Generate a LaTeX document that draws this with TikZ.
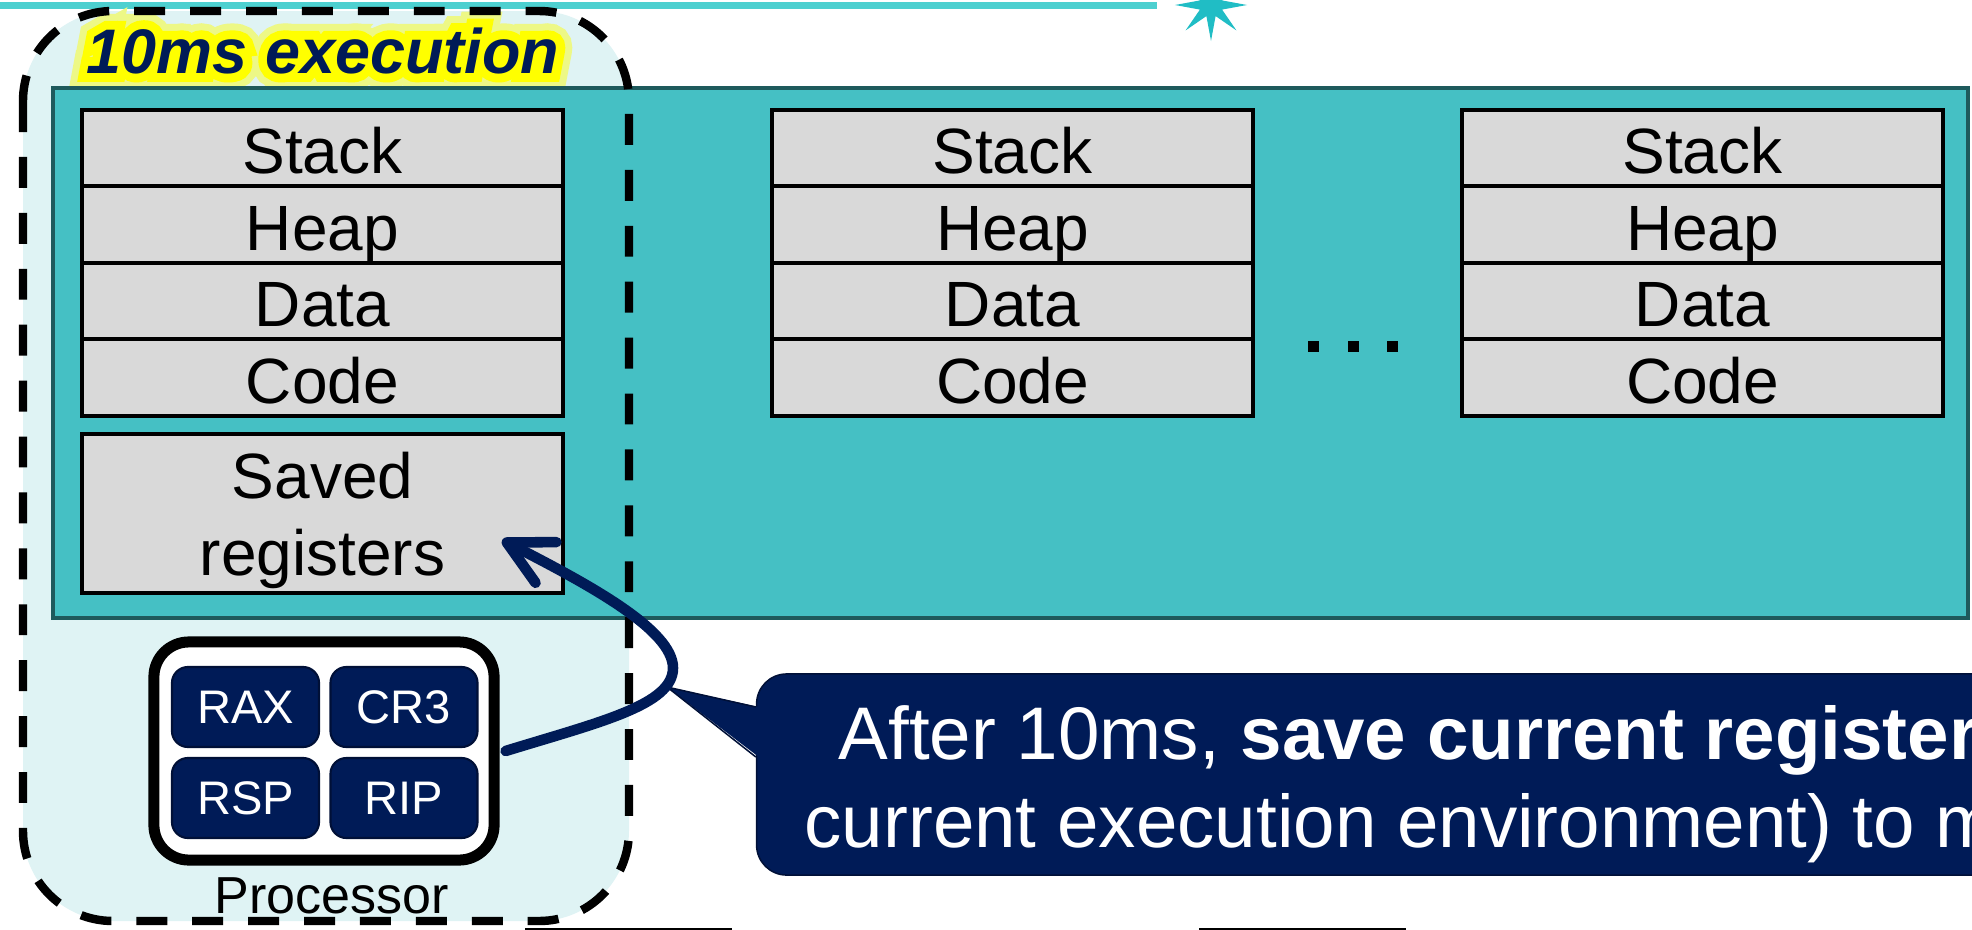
\documentclass[tikz,border=0pt]{standalone}
\usepackage{fontspec}
\setmainfont{Liberation Sans}
\newfontface\glowwide{Liberation Sans Bold Italic}[FakeBold=50]
\newfontface\glownarrow{Liberation Sans Bold Italic}[FakeBold=28]
\usetikzlibrary{arrows.meta,shapes.geometric,calc}

\definecolor{navy}{RGB}{0,27,87}
\definecolor{navyline}{RGB}{0,16,55}
\definecolor{tealfill}{RGB}{69,192,196}
\definecolor{tealedge}{RGB}{30,90,92}
\definecolor{palecyan}{RGB}{223,243,244}
\definecolor{memgray}{RGB}{217,217,217}
\definecolor{rulecyan}{RGB}{77,208,208}
\definecolor{starcyan}{RGB}{32,189,197}
\definecolor{glowyellow}{RGB}{255,255,0}

\tikzset{
  % one pixel of the drawing = 0.01cm, y grows downwards
  x=0.01cm, y=-0.01cm,
  memfont/.style={font=\fontsize{18.2pt}{21.8pt}\selectfont},
  titlesize/.style={font=\fontsize{17.9pt}{21.5pt}\selectfont#1},
  chipfont/.style={font=\fontsize{13.4pt}{16pt}\selectfont},
  notefont/.style={font=\fontsize{21.2pt}{25pt}\selectfont},
  segbase/.style={draw=black, line width=1.14pt, fill=memgray, minimum width=4.81cm,
    inner sep=0pt, memfont},
  seg/.style={segbase, minimum height=0.765cm, text height=14.4pt, text depth=0pt},
  chip/.style={draw=navyline, line width=0.6pt, fill=navy, rounded corners=0.16cm,
    minimum width=1.47cm, minimum height=0.80cm, inner sep=0pt, text=white, chipfont,
    text height=9.6pt, text depth=0pt},
  dotbox/.style={fill=black, minimum size=0.11cm, inner sep=0pt},
  lowbox/.style={draw=black, line width=1.14pt, minimum width=2.03cm, minimum height=1cm,
    anchor=north, inner sep=0pt},
  execframe/.style={draw=black, line width=2.4pt, dash pattern=on 8.8pt off 7.1pt},
  saveline/.style={draw=navy, line width=3pt, line cap=round,
    -{Straight Barb[round, length=12.5pt, width=13pt]}},
}

\begin{document}
\begin{tikzpicture}
\useasboundingbox (0,0) rectangle (1972,930);
\clip (0,0) rectangle (1972,930);

% timeline rule and spark
\node[star, star points=8, star point ratio=3, minimum size=0.72cm, fill=starcyan,
      inner sep=0pt] (spark) at (1211,5) {};
\coordinate (ruleL) at (-10,5.5);
\draw[rulecyan, line width=2pt] (ruleL) -- ([xshift=-0.14cm]spark.west |- ruleL);

% execution frame background
\fill[palecyan, rounded corners=0.9cm] (23,11) rectangle (629,921);

% title with a yellow glow behind it
\node[titlesize=\glowwide, anchor=base, inner sep=0pt, text=glowyellow!45!palecyan] (glowo) at (323,73) {10ms execution};
\node[titlesize=\glownarrow, anchor=base, inner sep=0pt, text=glowyellow] (glowi) at (323,73) {10ms execution};
\node[titlesize=\bfseries\itshape, anchor=base, inner sep=0pt, text=navy] (title) at (323,73) {10ms execution};

% memory
\node[fill=tealfill, draw=tealedge, line width=1.14pt, minimum width=19.13cm,
      minimum height=5.30cm, inner sep=0pt] (mem) at (1010.5,353) {};

\foreach \c/\x in {1/322.5, 2/1012.5, 3/1702.5} {
  \node[seg] (stack\c) at (\x,148.25) {Stack};
  \node[seg] (heap\c)  at (\x,224.75) {Heap};
  \node[seg] (data\c)  at (\x,301.25) {Data};
  \node[seg] (code\c)  at (\x,377.75) {Code};
}

\node[dotbox] (dot1) at (1313,346) {};
\node[dotbox] (dot2) at (1353,346) {};
\node[dotbox] (dot3) at (1392,346) {};

\node[segbase, minimum height=1.59cm] (saved) at (322.5,513.5) {};
\node[memfont, align=center, inner sep=0pt] (savedtext) at ($(saved.center)+(0,7)$) {Saved\\registers};

% processor
\node[draw=black, line width=3.13pt, fill=white, rounded corners=0.35cm,
      minimum width=3.40cm, minimum height=2.18cm, inner sep=0pt] (proc) at (324,751) {};
\node[chip] (rax) at (245.5,707) {RAX};
\node[chip] (cr3) at (404,707) {CR3};
\node[chip] (rsp) at (245.5,798) {RSP};
\node[chip] (rip) at (404,798) {RIP};
\node[font=\fontsize{14.8pt}{18pt}\selectfont, anchor=base, inner sep=0pt] (proclabel) at (331.5,913) {Processor};

% dashed execution frame on top
\draw[execframe, rounded corners=0.9cm] (23,11) rectangle (629,921);

% boxes below
\node[lowbox] (low1) at (628.5,928) {};
\node[lowbox] (low2) at (1302.5,928) {};

% callout
\node[draw=navyline, line width=0.43pt, fill=navy, rounded corners=0.3cm,
      minimum width=13.93cm, minimum height=2.01cm, inner sep=0pt] (note) at (1453.5,774.5) {};
\coordinate (ptip) at (667,687);
\fill[navy] (ptip) -- ($(note.west)+(3,-67.5)$) -- ($(note.west)+(3,-17.5)$) -- cycle;
\draw[navyline, line width=0.43pt] ($(note.west)+(0,-67.5)$) -- (ptip) -- ($(note.west)+(0,-17.5)$);
\node[notefont, text=white, anchor=base west, inner sep=0pt] (note1) at (838,759)
  {After 10ms, \textbf{save current registers}};
\node[notefont, text=white, anchor=base west, inner sep=0pt] (note2) at (804,847)
  {current execution environment) to memory};

% save arrow
\coordinate (bend) at (673,668);
\draw[saveline] ([xshift=0.06cm]proc.east) .. controls (600,722) and (673,705) .. (bend)
  .. controls (673,630) and (590,585) .. ($(saved.south east)+(-63,-55)$);
\end{tikzpicture}
\end{document}
